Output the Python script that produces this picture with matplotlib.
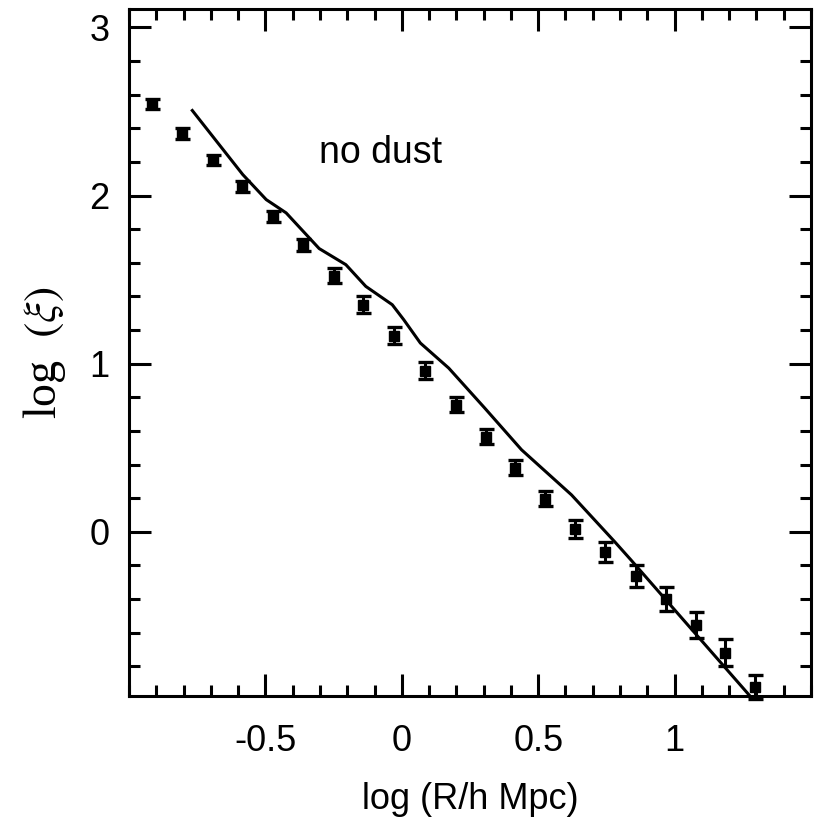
import matplotlib
matplotlib.use("Agg")
import matplotlib.pyplot as plt
from matplotlib.ticker import MultipleLocator

plt.rcParams["font.family"] = ["Liberation Sans", "DejaVu Sans"]
plt.rcParams["mathtext.fontset"] = "stix"
plt.rcParams["axes.unicode_minus"] = False

# data points with error bars
logr = [-0.917, -0.807, -0.693, -0.584, -0.474, -0.361, -0.248, -0.142, -0.029,
        0.084, 0.197, 0.307, 0.416, 0.526, 0.635, 0.745, 0.858, 0.967, 1.077,
        1.186, 1.296]
logxi = [2.542, 2.369, 2.214, 2.054, 1.875, 1.708, 1.524, 1.351, 1.167, 0.958,
         0.756, 0.565, 0.381, 0.196, 0.018, -0.119, -0.262, -0.399, -0.554,
         -0.720, -0.923]
err = [0.03, 0.03, 0.03, 0.03, 0.035, 0.035, 0.045, 0.05, 0.05, 0.05, 0.045,
       0.045, 0.045, 0.045, 0.055, 0.06, 0.065, 0.07, 0.075, 0.08, 0.07]

# model curve (no dust)
model_x = [-0.768, -0.583, -0.497, -0.424, -0.303, -0.205, -0.132, -0.035,
           0.007, 0.068, 0.172, 0.303, 0.439, 0.622, 0.780, 0.840, 1.273]
model_y = [2.506, 2.125, 1.976, 1.897, 1.685, 1.589, 1.460, 1.351, 1.262,
           1.123, 0.974, 0.738, 0.488, 0.220, -0.058, -0.167, -0.970]

xticks = [-0.5, 0, 0.5, 1]
xticklabels = ["-0.5", "0", "0.5", "1"]
yticks = [0, 1, 2, 3]
yticklabels = ["0", "1", "2", "3"]

fig = plt.figure(figsize=(8.14, 8.21), dpi=100)
ax = fig.add_axes([0.1585, 0.1523, 0.8378, 0.8368])

ax.plot(model_x, model_y, color="black", lw=2.2, clip_on=False)
ax.errorbar(logr, logxi, yerr=err, fmt="s", color="black", ms=6.5,
            elinewidth=2.2, capsize=5.4, capthick=2.4, clip_on=False)

ax.text(-0.303, 2.196, "no dust", fontsize=27, ha="left", va="baseline")

ax.set_xlim(-1.0, 1.5)
ax.set_ylim(-0.976, 3.11)
ax.set_xticks(xticks, labels=xticklabels)
ax.set_yticks(yticks, labels=yticklabels)
ax.xaxis.set_minor_locator(MultipleLocator(0.1))
ax.yaxis.set_minor_locator(MultipleLocator(0.2))

ax.tick_params(which="both", direction="in", top=True, right=True, width=2.2)
ax.tick_params(which="major", length=16, labelsize=26)
ax.tick_params(which="minor", length=8)
ax.tick_params(axis="x", which="major", pad=20)
ax.tick_params(axis="y", which="major", pad=14)
for sp in ax.spines.values():
    sp.set_linewidth(2.2)

ax.set_xlabel("log (R/h Mpc)", fontsize=26)
ax.xaxis.set_label_coords(0.5, -0.125)
ax.set_ylabel(r"log  $(\xi)$", fontsize=33, family="Liberation Serif")
ax.yaxis.set_label_coords(-0.089, 0.5)

fig.savefig("out.png", dpi=100)
